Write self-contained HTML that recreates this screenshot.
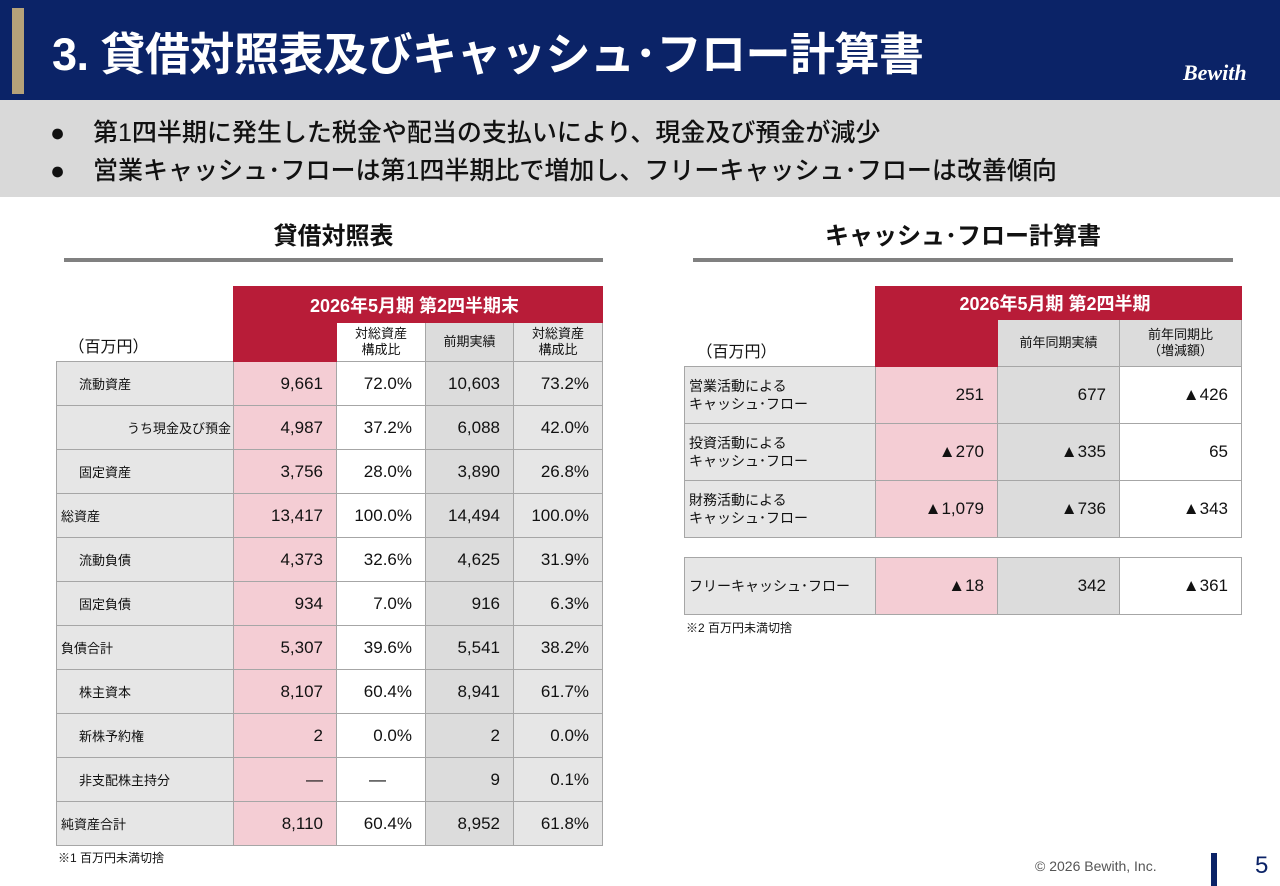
<!DOCTYPE html>
<html><head><meta charset="utf-8">
<style>
*{margin:0;padding:0;box-sizing:border-box}
body{width:1280px;height:886px;position:relative;background:#fff;font-family:"Liberation Sans","Noto Sans CJK JP",sans-serif;color:#111;overflow:hidden}
.abs{position:absolute}
table{border-collapse:collapse;table-layout:fixed;position:absolute}
td{border:1.5px solid #a6a6a6;font-size:17px;padding:0 13px 0 6px;text-align:right;white-space:nowrap}
td.lb{background:#e6e6e6;text-align:left;font-size:13px;padding-left:4px;font-weight:normal}
td.c1{background:#f4cdd4}
td.c2{background:#fff}
td.c3{background:#dcdcdc}
td.c4{background:#e6e6e6}
td.red{background:#b81c38;color:#fff;font-weight:bold;text-align:center;font-size:18px;border-color:#b81c38}
td.hd{font-size:13px;text-align:center;line-height:16px;padding:0}
td.blank{border:none;background:#fff;text-align:left;vertical-align:bottom;font-size:16px;padding:0 0 4px 12px}
</style></head><body>
<div class="abs" style="left:0;top:0;width:1280px;height:100px;background:#0b2367"></div>
<div class="abs" style="left:12px;top:8px;width:12px;height:86px;background:#b5a27a"></div>
<div class="abs" style="left:52px;top:26px;color:#fff;font-size:45px;font-weight:bold;line-height:58px;letter-spacing:-0.5px">3. 貸借対照表及びキャッシュ･フロー計算書</div>
<div class="abs" style="left:1183px;top:60px;color:#fff;font-size:22px;font-weight:bold;font-style:italic;font-family:'Liberation Serif',serif">Bewith</div>
<div class="abs" style="left:0;top:100px;width:1280px;height:97px;background:#d9d9d9"></div>
<div class="abs" style="left:50px;top:116px;font-size:25px;line-height:34px;font-weight:500"><span style="display:inline-block;width:43px">●</span>第1四半期に発生した税金や配当の支払いにより、現金及び預金が減少</div>
<div class="abs" style="left:50px;top:154px;font-size:25px;line-height:34px;font-weight:500"><span style="display:inline-block;width:43px">●</span>営業キャッシュ･フローは第1四半期比で増加し、フリーキャッシュ･フローは改善傾向</div>

<div class="abs" style="left:64px;top:220px;width:539px;text-align:center;font-size:24px;font-weight:bold;line-height:34px">貸借対照表</div>
<div class="abs" style="left:64px;top:258px;width:539px;height:4px;background:#808080"></div>
<div class="abs" style="left:693px;top:220px;width:540px;text-align:center;font-size:24px;font-weight:bold;line-height:34px">キャッシュ･フロー計算書</div>
<div class="abs" style="left:693px;top:258px;width:540px;height:4px;background:#808080"></div>

<table style="left:56px;top:286px;width:546px">
<colgroup><col style="width:177px"><col style="width:103px"><col style="width:89px"><col style="width:88px"><col style="width:89px"></colgroup>
<tr style="height:36px"><td class="blank" rowspan="2">（百万円）</td><td class="red" colspan="4">2026年5月期 第2四半期末</td></tr>
<tr style="height:39px"><td class="red"></td><td class="hd c2">対総資産<br>構成比</td><td class="hd c3">前期実績</td><td class="hd c4">対総資産<br>構成比</td></tr>
<tr style="height:44px"><td class="lb" style="padding-left:22px">流動資産</td><td class="c1">9,661</td><td class="c2">72.0%</td><td class="c3">10,603</td><td class="c4">73.2%</td></tr>
<tr style="height:44px"><td class="lb" style="text-align:right;padding-right:2px">うち現金及び預金</td><td class="c1">4,987</td><td class="c2">37.2%</td><td class="c3">6,088</td><td class="c4">42.0%</td></tr>
<tr style="height:44px"><td class="lb" style="padding-left:22px">固定資産</td><td class="c1">3,756</td><td class="c2">28.0%</td><td class="c3">3,890</td><td class="c4">26.8%</td></tr>
<tr style="height:44px"><td class="lb">総資産</td><td class="c1">13,417</td><td class="c2">100.0%</td><td class="c3">14,494</td><td class="c4">100.0%</td></tr>
<tr style="height:44px"><td class="lb" style="padding-left:22px">流動負債</td><td class="c1">4,373</td><td class="c2">32.6%</td><td class="c3">4,625</td><td class="c4">31.9%</td></tr>
<tr style="height:44px"><td class="lb" style="padding-left:22px">固定負債</td><td class="c1">934</td><td class="c2">7.0%</td><td class="c3">916</td><td class="c4">6.3%</td></tr>
<tr style="height:44px"><td class="lb">負債合計</td><td class="c1">5,307</td><td class="c2">39.6%</td><td class="c3">5,541</td><td class="c4">38.2%</td></tr>
<tr style="height:44px"><td class="lb" style="padding-left:22px">株主資本</td><td class="c1">8,107</td><td class="c2">60.4%</td><td class="c3">8,941</td><td class="c4">61.7%</td></tr>
<tr style="height:44px"><td class="lb" style="padding-left:22px">新株予約権</td><td class="c1">2</td><td class="c2">0.0%</td><td class="c3">2</td><td class="c4">0.0%</td></tr>
<tr style="height:44px"><td class="lb" style="padding-left:22px">非支配株主持分</td><td class="c1">—</td><td class="c2" style="text-align:center">—</td><td class="c3">9</td><td class="c4">0.1%</td></tr>
<tr style="height:44px"><td class="lb">純資産合計</td><td class="c1">8,110</td><td class="c2">60.4%</td><td class="c3">8,952</td><td class="c4">61.8%</td></tr>
</table>
<div class="abs" style="left:58px;top:849px;font-size:12px">※1 百万円未満切捨</div>

<table style="left:684px;top:286px;width:557px">
<colgroup><col style="width:191px"><col style="width:122px"><col style="width:122px"><col style="width:122px"></colgroup>
<tr style="height:33px"><td class="blank" rowspan="2">（百万円）</td><td class="red" colspan="3">2026年5月期 第2四半期</td></tr>
<tr style="height:47px"><td class="red"></td><td class="hd c3">前年同期実績</td><td class="hd c3">前年同期比<br>（増減額）</td></tr>
<tr style="height:57px"><td class="lb" style="font-size:14px;line-height:18px">営業活動による<br>キャッシュ･フロー</td><td class="c1">251</td><td class="c3">677</td><td class="c2">▲426</td></tr>
<tr style="height:57px"><td class="lb" style="font-size:14px;line-height:18px">投資活動による<br>キャッシュ･フロー</td><td class="c1">▲270</td><td class="c3">▲335</td><td class="c2">65</td></tr>
<tr style="height:57px"><td class="lb" style="font-size:14px;line-height:18px">財務活動による<br>キャッシュ･フロー</td><td class="c1">▲1,079</td><td class="c3">▲736</td><td class="c2">▲343</td></tr>
</table>
<table style="left:684px;top:557px;width:557px">
<colgroup><col style="width:191px"><col style="width:122px"><col style="width:122px"><col style="width:122px"></colgroup>
<tr style="height:57px"><td class="lb" style="font-size:14px">フリーキャッシュ･フロー</td><td class="c1">▲18</td><td class="c3">342</td><td class="c2">▲361</td></tr>
</table>
<div class="abs" style="left:686px;top:619px;font-size:12px">※2 百万円未満切捨</div>

<div class="abs" style="left:1035px;top:858px;font-size:14px;color:#555">© 2026 Bewith, Inc.</div>
<div class="abs" style="left:1211px;top:853px;width:6px;height:33px;background:#0b2367"></div>
<div class="abs" style="left:1255px;top:852px;font-size:24px;color:#0b2367">5</div>
</body></html>
